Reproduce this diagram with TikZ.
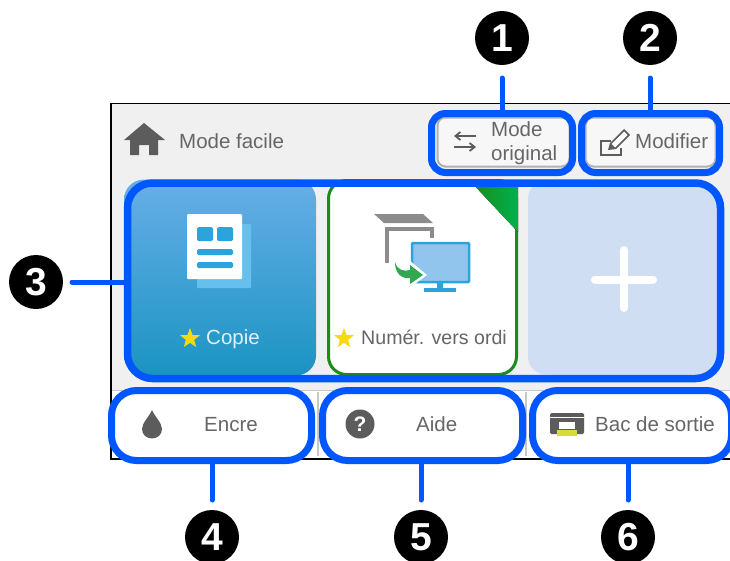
\documentclass[tikz,border=0pt]{standalone}
\usepackage{fontspec}
\setmainfont{Liberation Sans}
\usetikzlibrary{shapes.geometric,arrows.meta}
\definecolor{callblue}{HTML}{0057FF}
\definecolor{screenbg}{HTML}{F0F0F0}
\definecolor{labelgrey}{HTML}{666666}
\definecolor{icongrey}{HTML}{5C5C5C}
\definecolor{tiletop}{HTML}{68AEE8}
\definecolor{tilebot}{HTML}{1A94C2}
\definecolor{iconblue}{HTML}{2BA4DC}
\definecolor{backpage}{HTML}{66C0EE}
\definecolor{screenblue}{HTML}{92C5EE}
\definecolor{tilegreen}{HTML}{1A8C1A}
\definecolor{cornergreen}{HTML}{00B050}
\definecolor{arrowgreen}{HTML}{2FA84F}
\definecolor{plusbg}{HTML}{CFDEF3}
\definecolor{staryellow}{HTML}{F8D90F}
\definecolor{trayyellow}{HTML}{D8DC3A}
\tikzset{
  callnum/.style={circle,fill=black,text=white,minimum size=54pt,inner sep=0pt,outer sep=0pt,font=\fontsize{39}{42}\selectfont\bfseries},
  callbox/.style={draw=callblue,line width=7pt,inner sep=0pt,outer sep=0pt},
  callline/.style={draw=callblue,line width=5pt,line cap=round},
  lab/.style={font=\fontsize{20.5}{24}\selectfont,text=labelgrey,inner sep=0pt,anchor=base west},
  softbtn/.style={draw=black!30,line width=2pt,fill=white!97!black,rounded corners=8pt,minimum height=49pt,inner sep=0pt},
  favstar/.style={star,star points=5,star point ratio=2.4,fill=staryellow,minimum size=21pt,inner sep=0pt},
  geticon/.style={fill=icongrey,draw=none},
}
\begin{document}
\begin{tikzpicture}[x=1pt,y=-1pt]
\useasboundingbox (0,0) rectangle (730,560);
\clip (0,0) rectangle (730,560);
\fill[white] (0,0) rectangle (730,560);
% screen
\draw[black,line width=1.3pt,fill=screenbg] (111,103.5) rectangle (740,459);
\fill[white] (112,391) rectangle (740,458);
\draw[black!22,line width=1.5pt] (112,390.5) -- (740,390.5);
\draw[black!22,line width=2.5pt] (318,392) -- (318,456) (526,392) -- (526,456);
% header
\fill[icongrey] (144,123) -- (165,140) -- (158,140) -- (158,155) -- (149,155) -- (149,145) -- (139,145) -- (139,155) -- (130,155) -- (130,140) -- (124,140) -- cycle;
\node[lab] (tfacile) at (179,148.3) {Mode facile};
% buttons
\node[softbtn,minimum width=132pt] (btn1) at (503.5,142) {};
\node[softbtn,minimum width=130pt] (btn2) at (650.5,142) {};
\draw[icongrey,line width=1.8pt,-{Straight Barb[length=5pt,width=8pt]}] (476,136) -- (454,136);
\draw[icongrey,line width=1.8pt,-{Straight Barb[length=5pt,width=8pt]}] (454,147) -- (476,147);
\node[lab] (tmode) at (491,136.7) {Mode};
\node[lab] (torig) at (491,160.5) {original};
\draw[icongrey,line width=2.2pt] (621,148) -- (621,155) -- (601,155) -- (601,141) -- (611,141);
\fill[icongrey] (608,150) -- (610,143) -- (624,129) -- (630,135) -- (616,149) -- cycle;
\fill[white] (611.5,144) -- (624,131.5) -- (627.5,135) -- (615,147.5) -- cycle;
\node[lab] (tmod) at (635,148.3) {Modifier};
% tile Copie
\node[rounded corners=20pt,top color=tiletop,bottom color=tilebot,minimum width=192pt,minimum height=196pt,inner sep=0pt] (tile1) at (220,277.5) {};
\fill[rounded corners=1pt,fill=backpage] (197,224) rectangle (251,288);
\fill[rounded corners=1pt,white] (187,214) rectangle (242,279);
\fill[iconblue,rounded corners=1.5pt] (197,227) rectangle (213,241);
\fill[iconblue,rounded corners=1.5pt] (217,227) rectangle (233,241);
\fill[iconblue,rounded corners=1.5pt] (197,249) rectangle (233,255);
\fill[iconblue,rounded corners=1.5pt] (197,262) rectangle (233,268);
\node[favstar] (star1) at (190,338.5) {};
\node[lab,text=iconblue!15!white] (tcopie) at (206,344) {Copie};
% tile scan
\node[draw=tilegreen,line width=3pt,fill=white,rounded corners=18pt,minimum width=188pt,minimum height=194pt,inner sep=0pt] (tile2) at (422.5,277.5) {};
\fill[left color=tilegreen,right color=cornergreen] (472,183) -- (518,183) -- (518,232) -- cycle;
\fill[black!45] (374,214) -- (423,214) -- (433,223) -- (384,223) -- cycle;
\draw[black!45,line width=4pt] (387,263) -- (387,228.5) -- (432,228.5) -- (432,238);
\draw[iconblue,line width=2.5pt,fill=screenblue,rounded corners=1pt] (412,243) rectangle (469,282);
\fill[iconblue] (437,283) rectangle (443,289);
\fill[iconblue] (424,288) rectangle (456,291.5);
\fill[white] (392,257) .. controls (394,268) and (403,270) .. (409,268) -- (409,260) -- (427,275) -- (408,289) -- (408,281) .. controls (398,282) and (391,274) .. cycle;
\fill[arrowgreen] (395,262) .. controls (397,270) and (404,272) .. (410,270) -- (410,265) -- (423,275) -- (410,284) -- (410,278) .. controls (401,279) and (395,273) .. cycle;
\node[favstar] (star2) at (344,338.5) {};
\node[lab,font=\fontsize{19.6}{24}\selectfont] (tscan) at (361,344) {Numér. vers ordi};
% tile plus
\node[fill=plusbg,rounded corners=18pt,minimum width=189pt,minimum height=194pt,inner sep=0pt] (tile3) at (622.5,277.5) {};
\draw[white,line width=8pt,line cap=round] (624,250) -- (624,308) (595,279.5) -- (653,279.5);
% bottom bar
\fill[geticon] (152,410) .. controls (155,417) and (162,423) .. (162,429) .. controls (162,435) and (157,438.5) .. (152,438.5) .. controls (147,438.5) and (142,435) .. (142,429) .. controls (142,423) and (149,417) .. cycle;
\node[lab] (tencre) at (204,431.7) {Encre};
\node[circle,fill=icongrey,text=white,minimum size=29pt,inner sep=0pt,font=\fontsize{21}{24}\selectfont\bfseries] (help) at (360,424) {?};
\node[lab] (taide) at (416,431.7) {Aide};
\fill[icongrey,rounded corners=1.5pt] (550,413) rectangle (584,434);
\fill[white] (550,416.5) rectangle (584,418);
\fill[white] (559,422) rectangle (575,428.5);
\fill[trayyellow] (557,430) rectangle (577,436);
\node[lab] (tbac) at (595,431.7) {Bac de sortie};
% callout boxes
\node[callbox,rounded corners=14pt,minimum width=141pt,minimum height=59pt] (b1) at (502,143) {};
\node[callbox,rounded corners=14pt,minimum width=138pt,minimum height=59pt] (b2) at (650.5,143) {};
\node[callbox,rounded corners=25pt,line width=7.5pt,minimum width=593pt,minimum height=195.5pt] (b3) at (424,280.75) {};
\node[callbox,rounded corners=25pt,minimum width=200pt,minimum height=70pt] (b4) at (211.5,425.5) {};
\node[callbox,rounded corners=25pt,minimum width=200pt,minimum height=70pt] (b5) at (422.5,425.5) {};
\node[callbox,rounded corners=25pt,minimum width=199pt,minimum height=70pt] (b6) at (632,425.5) {};
% numbers
\node[callnum] (c1) at (502,38) {1};
\node[callnum] (c2) at (650,38) {2};
\node[callnum] (c3) at (36,282) {3};
\node[callnum] (c4) at (212,537) {4};
\node[callnum] (c5) at (421,537) {5};
\node[callnum] (c6) at (628,537) {6};
% connectors
\draw[callline,shorten <=13pt] (c1.south) -- (c1.south |- b1.north);
\draw[callline,shorten <=13pt] (c2.south) -- (c2.south |- b2.north);
\draw[callline,shorten <=9pt] (c3.east) -- (c3.east -| b3.west);
\draw[callline,shorten <=10pt] (c4.north) -- (c4.north |- b4.south);
\draw[callline,shorten <=10pt] (c5.north) -- (c5.north |- b5.south);
\draw[callline,shorten <=10pt] (c6.north) -- (c6.north |- b6.south);
\end{tikzpicture}
\end{document}
